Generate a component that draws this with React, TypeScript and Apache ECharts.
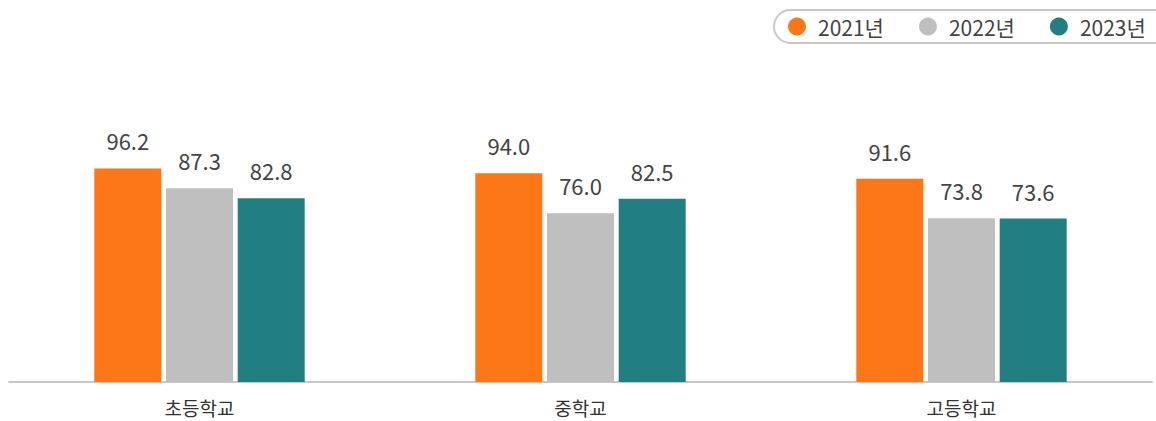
import React, { useEffect, useRef } from "react";
import * as echarts from "echarts";

const categories = ["초등학교", "중학교", "고등학교"];
const seriesNames = ["2021년", "2022년", "2023년"];
const values2021 = [96.2, 94.0, 91.6];
const values2022 = [87.3, 76.0, 73.8];
const values2023 = [82.8, 82.5, 73.6];
const colors = ["#FD7617", "#BFBFBF", "#217F82"];

const FONT = "'Noto Sans CJK KR', 'Noto Sans', sans-serif";

export default function App() {
  const ref = useRef<HTMLDivElement>(null);
  useEffect(() => {
    if (!ref.current) return;
    const chart = echarts.init(ref.current, undefined, { renderer: "svg" });
    const data = [values2021, values2022, values2023];
    chart.setOption({
      animation: false,
      textStyle: { fontFamily: FONT },
      legend: {
        data: seriesNames,
        left: 774,
        top: 10,
        width: 600,
        orient: "horizontal",
        padding: [6, 60, 6, 14],
        borderColor: "#C8C8C8",
        borderWidth: 2,
        borderRadius: 18,
        itemWidth: 18,
        itemHeight: 18,
        itemGap: 35,
        icon: "circle",
        textStyle: {
          fontFamily: FONT,
          fontSize: 21,
          color: "#444",
          padding: [0, 0, 0, 7],
        },
      },
      grid: { left: 9, right: 4, top: 160, bottom: 39 },
      xAxis: {
        type: "category",
        data: categories,
        axisTick: { show: false },
        axisLine: { lineStyle: { color: "#C8C8C8", width: 2 } },
        axisLabel: { fontFamily: FONT, fontSize: 19, lineHeight: 20, color: "#333", margin: 15 },
      },
      yAxis: { type: "value", min: 0, max: 100, show: false, splitLine: { show: false } },
      series: seriesNames.map((name, i) => ({
        name,
        type: "bar",
        data: data[i],
        barWidth: 67,
        barGap: "7%",
        itemStyle: { color: colors[i] },
        label: {
          show: true,
          position: "top",
          distance: 17,
          fontFamily: FONT,
          fontSize: 22,
          color: "#444",
          formatter: (p: any) => Number(p.value).toFixed(1),
        },
      })),
    });
    return () => chart.dispose();
  }, []);
  return (
    <div
      ref={ref}
      style={{ position: "fixed", left: 0, top: 0, width: 1156, height: 421, background: "#fff" }}
    />
  );
}
